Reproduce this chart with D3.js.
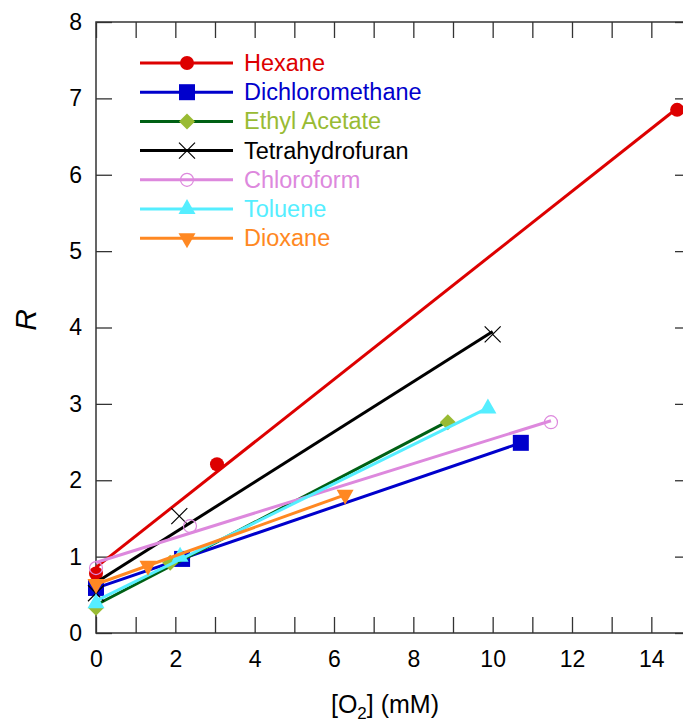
<!DOCTYPE html>
<html><head><meta charset="utf-8">
<script src="https://cdn.jsdelivr.net/npm/d3@7"></script>
<style>body{margin:0;background:#fff}svg{display:block;font-family:"Liberation Sans",Arial,sans-serif}</style>
</head><body>
<svg id="c" width="683" height="726"></svg>
<script>
const seriesNames = ["Hexane","Dichloromethane","Ethyl Acetate","Tetrahydrofuran","Chloroform","Toluene","Dioxane"];
const hexaneX = [0, 3.05, 14.65];          const hexaneY = [0.78, 2.21, 6.85];
const dichloromethaneX = [0, 2.17, 10.71]; const dichloromethaneY = [0.59, 0.97, 2.49];
const ethylAcetateX = [0, 1.87, 8.87];     const ethylAcetateY = [0.33, 0.92, 2.76];
const thfX = [0, 2.1, 10.0];               const thfY = [0.52, 1.53, 3.91];
const chloroformX = [0, 2.37, 11.47];      const chloroformY = [0.85, 1.40, 2.76];
const tolueneX = [0, 2.12, 9.88];          const tolueneY = [0.39, 1.0, 2.94];
const dioxaneX = [0, 1.31, 6.28];          const dioxaneY = [0.64, 0.88, 1.81];
const xTicks = [0,1,2,3,4,5,6,7,8,9,10,11,12,13,14,15];
const xTickLabels = [0,2,4,6,8,10,12,14];
const yTicks = [0,1,2,3,4,5,6,7,8];

const styles = [
  {line:"#DD0000", fill:"#DD0000", text:"#DD0000", sym:"circle"},
  {line:"#0000CC", fill:"#0000CC", text:"#0000CC", sym:"square"},
  {line:"#006014", fill:"#99BB33", text:"#99BB33", sym:"diamond"},
  {line:"#000000", fill:"none", text:"#000000", sym:"x"},
  {line:"#DD88DD", fill:"none", text:"#DD88DD", sym:"ocircle"},
  {line:"#55EEFF", fill:"#55EEFF", text:"#55EEFF", sym:"tri"},
  {line:"#FF8822", fill:"#FF8822", text:"#FF8822", sym:"dtri"}
];
const xs = [hexaneX, dichloromethaneX, ethylAcetateX, thfX, chloroformX, tolueneX, dioxaneX];
const ys = [hexaneY, dichloromethaneY, ethylAcetateY, thfY, chloroformY, tolueneY, dioxaneY];

const svg = d3.select("#c");
const L=96, T=22, R=691, B=633;
const x = d3.scaleLinear().domain([0,15]).range([L,R]);
const y = d3.scaleLinear().domain([0,8]).range([B,T]);
const axisColor = "#333";

function fit(X, Y){
  const n=X.length, mx=d3.mean(X), my=d3.mean(Y);
  let sxx=0, sxy=0;
  for(let i=0;i<n;i++){sxx+=(X[i]-mx)**2; sxy+=(X[i]-mx)*(Y[i]-my);}
  const m=sxy/sxx; return {m, b:my-m*mx};
}

function marker(g, sym, cx, cy, st){
  if(sym==="circle") g.append("circle").attr("cx",cx).attr("cy",cy).attr("r",7).attr("fill",st.fill);
  else if(sym==="ocircle") g.append("circle").attr("cx",cx).attr("cy",cy).attr("r",6.5).attr("fill","none").attr("stroke",st.line).attr("stroke-width",1.2);
  else if(sym==="square") g.append("rect").attr("x",cx-8).attr("y",cy-8).attr("width",16).attr("height",16).attr("fill",st.fill);
  else if(sym==="diamond") g.append("path").attr("d",`M${cx},${cy-8}L${cx+8},${cy}L${cx},${cy+8}L${cx-8},${cy}Z`).attr("fill",st.fill);
  else if(sym==="x") g.append("path").attr("d",`M${cx-8},${cy-8}L${cx+8},${cy+8}M${cx-8},${cy+8}L${cx+8},${cy-8}`).attr("stroke",st.line).attr("stroke-width",1.2);
  else if(sym==="tri") g.append("path").attr("d",`M${cx},${cy-10}L${cx+8.5},${cy+5}L${cx-8.5},${cy+5}Z`).attr("fill",st.fill);
  else if(sym==="dtri") g.append("path").attr("d",`M${cx},${cy+10}L${cx+8.5},${cy-5}L${cx-8.5},${cy-5}Z`).attr("fill",st.fill);
}

// axes
const gx = svg.append("g").attr("transform",`translate(0,${B})`)
  .call(d3.axisBottom(x).tickValues(xTicks).tickSizeInner(-16).tickSizeOuter(0).tickPadding(18)
    .tickFormat(d=>xTickLabels.includes(d)?d:""));
const gxt = svg.append("g").attr("transform",`translate(0,${T})`)
  .call(d3.axisTop(x).tickValues(xTicks).tickSizeInner(-16).tickSizeOuter(0).tickFormat(""));
const gy = svg.append("g").attr("transform",`translate(${L},0)`)
  .call(d3.axisLeft(y).tickValues(yTicks).tickSizeInner(-16).tickSizeOuter(0).tickPadding(14));
const gyr = svg.append("g").attr("transform",`translate(${R},0)`)
  .call(d3.axisRight(y).tickValues(yTicks).tickSizeInner(-16).tickSizeOuter(0).tickFormat(""));
[gx,gxt,gy,gyr].forEach(g=>{
  g.select(".domain").remove();
  g.selectAll("line").attr("stroke",axisColor).attr("stroke-width",1.3);
  g.selectAll("text").attr("font-size",23).attr("fill","#000").attr("font-family","Liberation Sans, Arial, sans-serif");
});
svg.append("rect").attr("x",L).attr("y",T).attr("width",R-L).attr("height",B-T)
  .attr("fill","none").attr("stroke",axisColor).attr("stroke-width",1.5);

// series
const plot = svg.append("g");
seriesNames.forEach((name,i)=>{
  const st=styles[i], X=xs[i], Y=ys[i];
  const f=fit(X,Y);
  const x0=d3.min(X), x1=d3.max(X);
  const g=plot.append("g");
  g.append("line").attr("x1",x(x0)).attr("y1",y(f.b+f.m*x0)).attr("x2",x(x1)).attr("y2",y(f.b+f.m*x1))
    .attr("stroke",st.line).attr("stroke-width",3);
  X.forEach((xv,j)=>marker(g, st.sym, x(xv), y(Y[j]), st));
});

// legend
const lg = svg.append("g");
seriesNames.forEach((name,i)=>{
  const st=styles[i], cy=63+i*29.2;
  lg.append("line").attr("x1",140).attr("x2",233).attr("y1",cy).attr("y2",cy).attr("stroke",st.line).attr("stroke-width",3);
  marker(lg, st.sym, 187, cy, st);
  lg.append("text").attr("x",244).attr("y",cy+8).attr("font-size",23.5).attr("fill",st.text).text(name);
});

// axis titles
const xt = svg.append("text").attr("x",385).attr("y",713).attr("text-anchor","middle").attr("font-size",25);
xt.append("tspan").text("[O");
xt.append("tspan").attr("font-size",17).attr("dy",6).text("2");
xt.append("tspan").attr("dy",-6).text("] (mM)");
svg.append("text").attr("transform","translate(36,320) rotate(-90)").attr("text-anchor","middle")
  .attr("font-size",30).attr("font-style","italic").text("R");
</script>
</body></html>
